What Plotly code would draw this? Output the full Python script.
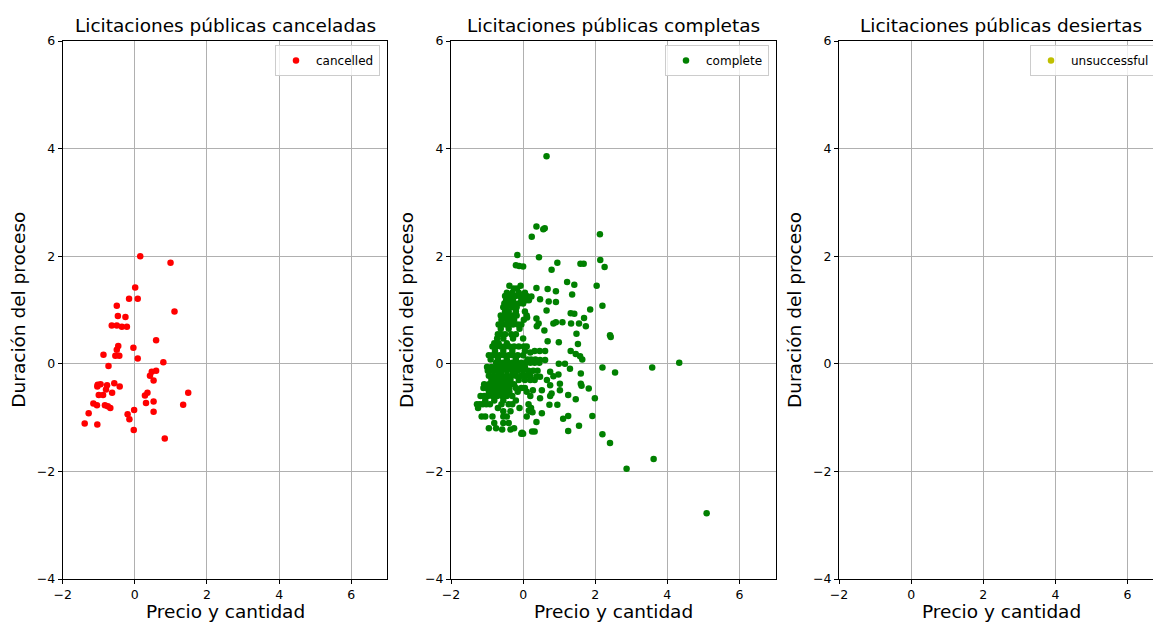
import plotly.graph_objects as go

# ---- data: "cancelled" tenders ----
cancelled_x = [
    0.15, 0.99, 0.01, -0.16, 0.08, -0.50, 1.10, -0.47, -0.26, -0.64,
    -0.50, -0.36, -0.22, 0.59, -0.46, -0.04, -0.50, -0.54, -0.43, -0.87,
    0.08, 0.79, -0.73, 0.59, 0.47, 0.42, 0.52, -0.57, -1.03, -0.95,
    -0.77, -0.42, -1.04, -0.80, -0.63, 1.48, 0.35, 0.28, -1.00, -0.88,
    0.52, 0.31, -1.15, -1.05, -0.83, -0.75, -0.68, 1.34, 0.52, -0.02,
    -1.28, -0.20, -0.15, -1.39, -1.04, -0.03, 0.83,
]
cancelled_y = [
    2.00, 1.88, 1.42, 1.21, 1.21, 1.08, 0.97, 0.89, 0.87, 0.71,
    0.71, 0.69, 0.69, 0.44, 0.33, 0.30, 0.26, 0.15, 0.15, 0.17,
    0.10, 0.03, -0.04, -0.13, -0.15, -0.22, -0.31, -0.36, -0.39, -0.38,
    -0.40, -0.42, -0.42, -0.48, -0.54, -0.54, -0.54, -0.59, -0.58, -0.58,
    -0.70, -0.73, -0.74, -0.77, -0.77, -0.79, -0.82, -0.76, -0.89, -0.86,
    -0.92, -0.94, -1.03, -1.11, -1.13, -1.23, -1.39,
]

# ---- data: "complete" tenders ----
complete_x = [
    # main cluster, row by row
    -0.38, -0.07,
    -0.26, -0.17,
    -0.45, -0.30, -0.12, 0.05,
    -0.50, -0.42, -0.33, -0.22, -0.10, 0.02, 0.10,
    -0.47, -0.38, -0.28, -0.05, 0.08,
    -0.52, -0.43, -0.35, -0.25, -0.12, 0.00,
    -0.55, -0.45, -0.30, -0.18,
    -0.50, -0.40, -0.20, 0.05,
    -0.62, -0.52, -0.42, -0.30, -0.18, 0.10,
    -0.60, -0.45, -0.35, -0.25, 0.02,
    -0.68, -0.58, -0.48, -0.38, -0.28, -0.15, -0.05,
    -0.62, -0.40, -0.10,
    -0.70, -0.60, -0.50, -0.33, -0.20,
    -0.72, -0.55, -0.28, 0.00,
    -0.80, -0.68, -0.45,
    -0.85, -0.75, -0.62, -0.50, -0.38, -0.25, -0.12, 0.02, 0.10,
    -0.78, -0.55, -0.30, 0.05,
    -0.95, -0.85, -0.75, -0.65, -0.52, -0.40, -0.28, -0.15, 0.00,
    -0.90, -0.70, -0.45, -0.20, 0.12, 0.22,
    -0.75, -0.65, -0.55, -0.42, -0.30, -0.18, -0.05, 0.08, 0.20, 0.32, 0.45,
    -1.00, -0.88, -0.76, -0.62, -0.48, -0.35, -0.22, -0.10, 0.05,
    -0.98, -0.85, -0.72, -0.60, -0.45, -0.30, -0.15, 0.00, 0.15, 0.28, 0.40,
    -0.95, -0.82, -0.70, -0.58, -0.45, -0.32, -0.20, -0.05, 0.08, 0.20,
    -0.88, -0.75, -0.60, -0.48, -0.35, -0.12, 0.05, 0.20, 0.32,
    -1.08, -0.95, -0.85, -0.70, -0.55, -0.40, -0.25,
    -1.10, -1.00, -0.88, -0.75, -0.62, -0.50, -0.38, -0.20, -0.05, 0.05,
    -0.95, -0.80, -0.65, -0.52, -0.38, -0.15, 0.10,
    -1.18, -1.08, -0.98, -0.85, -0.72, -0.58, -0.45, -0.30,
    -1.05, -0.80, -0.55, -0.20,
    -1.28, -1.20, -1.12, -1.02, -0.92, -0.60, -0.40, -0.30, 0.15,
    -1.25, -0.70, -0.10, 0.22,
    -0.55, -0.35, 0.20,
    -1.15, -1.05, -0.85, -0.55, -0.45, 0.10,
    -0.80, -0.55, -0.40,
    -0.95, -0.75, -0.25,
    -0.05, 0.00,
    # scattered points
    0.65, 0.37, 0.60, 0.56, 0.24, 2.13, -0.16, 0.44, -0.20, -0.11,
    0.00, 0.95, 0.79, 1.59, 1.68, 2.14, 2.26, 1.22, 1.42, 2.04,
    0.37, 0.68, 0.91, 1.36, 0.23, 0.16, 0.47, 0.71, 0.91, 2.20,
    1.86, 0.65, 1.32, 1.42, 1.69, 0.37, 0.11, 0.91, 0.84, 1.09,
    0.43, 0.38, 1.33, 1.55, 1.74, 0.59, 1.48, 2.41, 2.43, 0.68,
    0.99, 1.52, 0.32, 0.46, 0.61, 1.32, 1.46, 1.58, 1.64, 0.20,
    0.34, 0.47, 0.61, 0.99, 1.16, 1.30, 2.20, 2.55, 3.58, 4.33,
    0.75, 0.84, 0.98, 1.60, 0.37, 0.47, 0.66, 0.75, 1.02, 1.60,
    1.62, 1.82, 0.27, 0.52, 0.79, 1.02, 0.20, 0.47, 0.75, 1.25,
    1.46, 1.99, 0.95, 0.73, 0.16, 0.26, 0.52, 1.11, 1.25, 1.92,
    0.37, 1.55, -0.58, -0.35, -0.03, 0.25, 0.32, 1.25, 2.20, 2.41,
    3.62, 2.87, 5.09,
]
complete_y = [
    1.45, 1.45,
    1.40, 1.40,
    1.32, 1.32, 1.32, 1.32,
    1.26, 1.26, 1.26, 1.26, 1.26, 1.26, 1.26,
    1.18, 1.18, 1.18, 1.18, 1.18,
    1.12, 1.12, 1.12, 1.12, 1.12, 1.12,
    1.05, 1.05, 1.05, 1.05,
    0.97, 0.97, 0.97, 0.97,
    0.90, 0.90, 0.90, 0.90, 0.90, 0.90,
    0.82, 0.82, 0.82, 0.82, 0.82,
    0.73, 0.73, 0.73, 0.73, 0.73, 0.73, 0.73,
    0.65, 0.65, 0.65,
    0.55, 0.55, 0.55, 0.55, 0.55,
    0.47, 0.47, 0.47, 0.47,
    0.38, 0.38, 0.38,
    0.32, 0.32, 0.32, 0.32, 0.32, 0.32, 0.32, 0.32, 0.32,
    0.24, 0.24, 0.24, 0.24,
    0.16, 0.16, 0.16, 0.16, 0.16, 0.16, 0.16, 0.16, 0.16,
    0.08, 0.08, 0.08, 0.08, 0.08, 0.08,
    0.02, 0.02, 0.02, 0.02, 0.02, 0.02, 0.02, 0.02, 0.02, 0.02, 0.02,
    -0.06, -0.06, -0.06, -0.06, -0.06, -0.06, -0.06, -0.06, -0.06,
    -0.13, -0.13, -0.13, -0.13, -0.13, -0.13, -0.13, -0.13, -0.13, -0.13, -0.13,
    -0.22, -0.22, -0.22, -0.22, -0.22, -0.22, -0.22, -0.22, -0.22, -0.22,
    -0.30, -0.30, -0.30, -0.30, -0.30, -0.30, -0.30, -0.30, -0.30,
    -0.38, -0.38, -0.38, -0.38, -0.38, -0.38, -0.38,
    -0.45, -0.45, -0.45, -0.45, -0.45, -0.45, -0.45, -0.45, -0.45, -0.45,
    -0.52, -0.52, -0.52, -0.52, -0.52, -0.52, -0.52,
    -0.60, -0.60, -0.60, -0.60, -0.60, -0.60, -0.60, -0.60,
    -0.68, -0.68, -0.68, -0.68,
    -0.75, -0.75, -0.75, -0.75, -0.75, -0.75, -0.75, -0.75, -0.75,
    -0.82, -0.82, -0.82, -0.82,
    -0.88, -0.88, -0.88,
    -0.98, -0.98, -0.98, -0.98, -0.98, -0.98,
    -1.10, -1.10, -1.10,
    -1.20, -1.20, -1.20,
    -1.30, -1.30,
    # scattered points
    3.86, 2.55, 2.52, 2.50, 2.36, 2.41, 2.02, 1.98, 1.83, 1.82,
    1.81, 1.88, 1.75, 1.86, 1.86, 1.93, 1.80, 1.52, 1.47, 1.45,
    1.41, 1.39, 1.35, 1.29, 1.25, 1.18, 1.20, 1.16, 1.15, 1.08,
    1.01, 0.99, 0.94, 0.93, 0.85, 0.84, 0.86, 0.77, 0.75, 0.77,
    0.75, 0.70, 0.75, 0.75, 0.70, 0.62, 0.56, 0.53, 0.50, 0.42,
    0.40, 0.37, 0.24, 0.24, 0.24, 0.24, 0.18, 0.14, 0.08, 0.21,
    0.08, 0.07, 0.07, 0.00, 0.00, -0.09, -0.07, -0.16, -0.07, 0.02,
    -0.15, -0.23, -0.20, -0.18, -0.24, -0.24, -0.30, -0.40, -0.37, -0.37,
    -0.41, -0.46, -0.49, -0.49, -0.55, -0.49, -0.60, -0.64, -0.60, -0.58,
    -0.66, -0.64, -0.76, -0.76, -0.87, -0.90, -0.92, -1.02, -0.97, -0.97,
    -1.08, -1.15, -1.22, -1.22, -1.28, -1.26, -1.26, -1.25, -1.31, -1.47,
    -1.77, -1.95, -2.78,
]

# ---- data: "unsuccessful" tenders (none) ----
unsuccessful_x = []
unsuccessful_y = []

panel_titles = [
    "Licitaciones públicas canceladas",
    "Licitaciones públicas completas",
    "Licitaciones públicas desiertas",
]
x_label = "Precio y cantidad"
y_label = "Duración del proceso"
x_ticks = [-2, 0, 2, 4, 6]
y_ticks = [-4, -2, 0, 2, 4, 6]

W, H = 1153, 622
FONT = "DejaVu Sans"

# panel geometry in pixels (left, right), shared top/bottom
panels_px = [(62.7, 387.3), (451.0, 775.5), (839.0, 1153.0)]
top_px, bottom_px = 41.0, 579.0
px_per_unit = (387.3 - 62.7) / 9.0
x_ranges = [
    [-2, 7],
    [-2, 7],
    [-2, -2 + (1153.0 - 839.0) / px_per_unit],
]

fig = go.Figure()

series = [
    ("cancelled", cancelled_x, cancelled_y, "#ff0000"),
    ("complete", complete_x, complete_y, "#008000"),
    ("unsuccessful", unsuccessful_x, unsuccessful_y, "#bfbf00"),
]

for i, (name, xs, ys, col) in enumerate(series):
    sfx = "" if i == 0 else str(i + 1)
    # an empty series still needs one null point so its legend entry is drawn
    fig.add_trace(go.Scatter(
        x=xs if xs else [None], y=ys if ys else [None],
        mode="markers", name=name,
        marker=dict(color=col, size=6.5, line=dict(width=0)),
        xaxis="x" + sfx, yaxis="y" + sfx,
        legend="legend" + sfx,
        showlegend=True,
    ))

ydom = [1 - bottom_px / H, 1 - top_px / H]
axis_common = dict(
    showline=True, linecolor="black", linewidth=1, mirror=True,
    ticks="outside", ticklen=4, tickwidth=1, tickcolor="black",
    showgrid=True, gridcolor="#b0b0b0", gridwidth=1,
    zeroline=False, tickfont=dict(family=FONT, size=12.5, color="black"),
)

layout = dict(
    width=W, height=H,
    margin=dict(l=0, r=0, t=0, b=0, autoexpand=False),
    paper_bgcolor="white", plot_bgcolor="white",
    font=dict(family=FONT, color="black"),
    showlegend=True,
    annotations=[],
)

legend_left_px = [275, 665, 1030]

for i, (l_px, r_px) in enumerate(panels_px):
    sfx = "" if i == 0 else str(i + 1)
    layout["xaxis" + sfx] = dict(
        axis_common, domain=[l_px / W, r_px / W], range=x_ranges[i],
        tickvals=x_ticks, anchor="y" + sfx,
    )
    layout["yaxis" + sfx] = dict(
        axis_common, domain=ydom, range=[-4, 6],
        tickvals=y_ticks, anchor="x" + sfx,
    )
    layout["legend" + sfx] = dict(
        visible=True,
        x=legend_left_px[i] / W, y=1 - 45 / H,
        xanchor="left", yanchor="top",
        bordercolor="#cccccc", borderwidth=1,
        bgcolor="rgba(255,255,255,0.8)",
        font=dict(family=FONT, size=12, color="black"),
    )
    full_right = l_px + 9 * px_per_unit
    cx = (l_px + full_right) / 2
    # panel title
    layout["annotations"].append(dict(
        text=panel_titles[i], x=cx / W, y=1 - 25 / H,
        xref="paper", yref="paper", xanchor="center", yanchor="middle",
        showarrow=False, font=dict(family=FONT, size=18.5, color="black"),
    ))
    # x-axis title
    layout["annotations"].append(dict(
        text=x_label, x=cx / W, y=1 - 611 / H,
        xref="paper", yref="paper", xanchor="center", yanchor="middle",
        showarrow=False, font=dict(family=FONT, size=18.5, color="black"),
    ))
    # y-axis title
    layout["annotations"].append(dict(
        text=y_label, x=(l_px - 45) / W, y=(ydom[0] + ydom[1]) / 2,
        xref="paper", yref="paper", xanchor="center", yanchor="middle",
        textangle=-90, showarrow=False,
        font=dict(family=FONT, size=18.5, color="black"),
    ))

fig.update_layout(**layout)
fig.write_html("out.html")
